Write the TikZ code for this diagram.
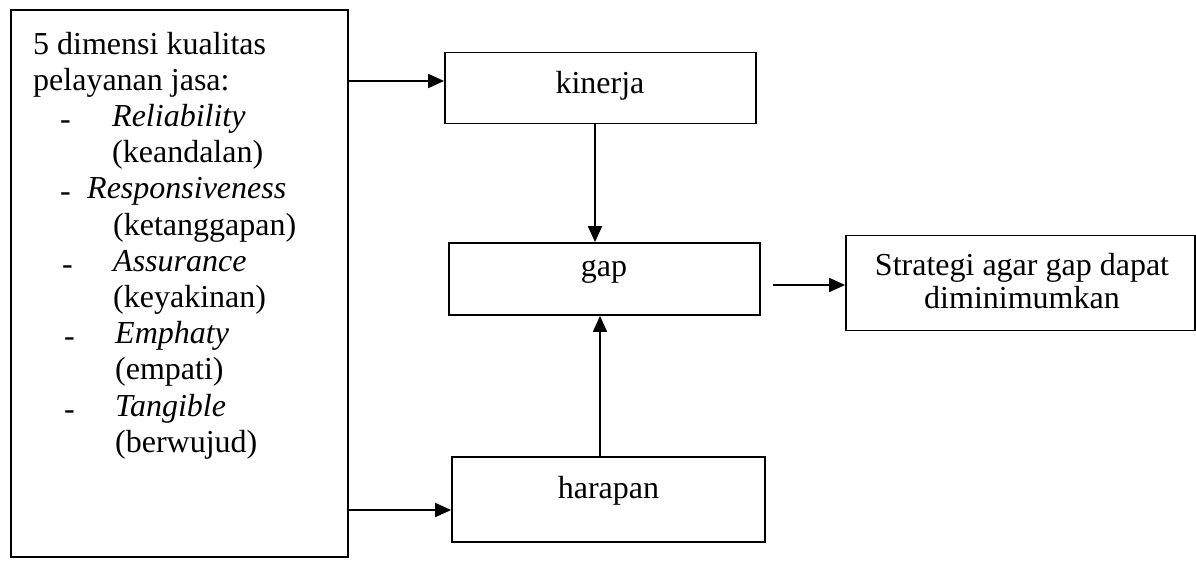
\documentclass[tikz,border=0pt]{standalone}
\usepackage{fontspec}
\setmainfont{Liberation Serif}
\usetikzlibrary{arrows.meta}
\begin{document}
\begin{tikzpicture}[x=1pt,y=-1pt,
  box/.style={draw, line width=1.8pt, inner sep=0pt, minimum width=#1},
  txt/.style={font=\fontsize{32}{36}\selectfont, inner sep=0pt},
  arr/.style={line width=1.9pt, -{Triangle[length=16pt,width=14pt]}}]
\useasboundingbox (0,0) rectangle (1196,562);
% boxes
\node[box=337pt, minimum height=547pt] (dim) at (179.5,283.5) {};
\node[box=311pt, minimum height=71pt] (kinerja) at (600.5,88) {};
\node[box=311pt, minimum height=72pt] (gap) at (604.5,279) {};
\node[box=313pt, minimum height=85pt] (harapan) at (608.5,499.5) {};
\node[box=349pt, minimum height=95pt] (strategi) at (1020.5,283) {};
% box texts
\node[txt, anchor=base] (tk) at (600,93) {kinerja};
\node[txt, anchor=base] (tg) at (604,276) {gap};
\node[txt, anchor=base] (th) at (608.5,498) {harapan};
\node[txt, anchor=base] (ts1) at (1022,275) {Strategi agar gap dapat};
\node[txt, anchor=base] (ts2) at (1022,308) {diminimumkan};
% left box text
\node[txt, anchor=base west] (l1) at (33,54) {5 dimensi kualitas};
\node[txt, anchor=base west] (l2) at (33,90.2) {pelayanan jasa:};
\node[txt, anchor=base west] (d3) at (60,126.4) {\raisebox{-3pt}{-}};
\node[txt, anchor=base west] (l3) at (112,126.4) {\itshape Reliability};
\node[txt, anchor=base west] (l4) at (112,162.6) {(keandalan)};
\node[txt, anchor=base west] (d5) at (60,198.8) {\raisebox{-3pt}{-}};
\node[txt, anchor=base west] (l5) at (87,198.8) {\itshape Responsiveness};
\node[txt, anchor=base west] (l6) at (113,235) {(ketanggapan)};
\node[txt, anchor=base west] (d7) at (62,271.2) {\raisebox{-3pt}{-}};
\node[txt, anchor=base west] (l7) at (113,271.2) {\itshape Assurance};
\node[txt, anchor=base west] (l8) at (113,307.4) {(keyakinan)};
\node[txt, anchor=base west] (d9) at (64,343.6) {\raisebox{-3pt}{-}};
\node[txt, anchor=base west] (l9) at (115,343.6) {\itshape Emphaty};
\node[txt, anchor=base west] (l10) at (115,379.8) {(empati)};
\node[txt, anchor=base west] (d11) at (64,416) {\raisebox{-3pt}{-}};
\node[txt, anchor=base west] (l11) at (115,416) {\itshape Tangible};
\node[txt, anchor=base west] (l12) at (115,452.2) {(berwujud)};
% connectors
\coordinate (y1) at (0,81);
\coordinate (y2) at (0,510);
\coordinate (x3) at (595,0);
\coordinate (x4) at (600,0);
\coordinate (s5) at (773,285);
\draw[arr] (dim.east |- y1) -- (kinerja.west |- y1);
\draw[arr] (dim.east |- y2) -- (harapan.west |- y2);
\draw[arr] (kinerja.south -| x3) -- (gap.north -| x3);
\draw[arr] (harapan.north -| x4) -- (gap.south -| x4);
\draw[arr] (s5) -- (strategi.west |- s5);
\end{tikzpicture}
\end{document}
